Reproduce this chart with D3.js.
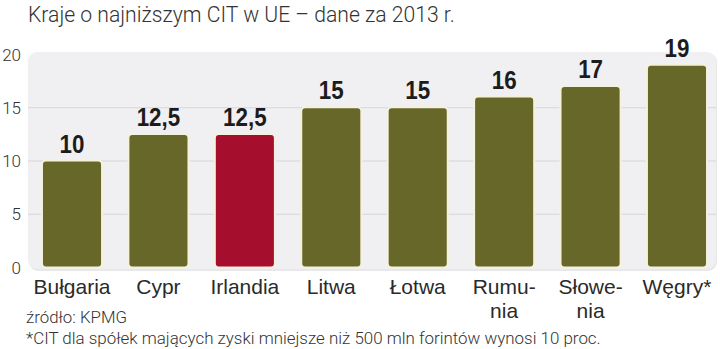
<!DOCTYPE html>
<html><head><meta charset="utf-8">
<script src="https://cdn.jsdelivr.net/npm/d3@7"></script>
<style>
html,body{margin:0;padding:0;background:#fff;}
svg{display:block;}
</style></head>
<body>
<svg id="c" width="720" height="349"></svg>
<script>
const categories = ["Bułgaria","Cypr","Irlandia","Litwa","Łotwa","Rumu-|nia","Słowe-|nia","Węgry*"];
const values = [10,12.5,12.5,15,15,16,17,19];
const valueLabels = ["10","12,5","12,5","15","15","16","17","19"];
const highlight = [false,false,true,false,false,false,false,false];
const yTicks = [0,5,10,15,20];
const title = "Kraje o najniższym CIT w UE – dane za 2013 r.";
const source = "źródło: KPMG";
const footnote = "*CIT dla spółek mających zyski mniejsze niż 500 mln forintów wynosi 10 proc.";

const svg = d3.select("#c");
const olive = "#67672a", red = "#a50e2d";

const x = d3.scaleBand().domain(d3.range(categories.length))
  .range([28.8, 720.2]).paddingInner(0.305).paddingOuter(0.1525);
const y = d3.scaleLinear().domain([0,20]).range([267,54]);

// panel
svg.append("rect").attr("x",29).attr("y",53).attr("width",688).attr("height",218)
  .attr("rx",9).attr("fill","#d9d9de").attr("opacity",0.6);
svg.append("rect").attr("x",28).attr("y",52).attr("width",688).attr("height",217)
  .attr("rx",9).attr("fill","#f0f0f3");

// gridlines
svg.append("g").selectAll("line").data(yTicks.filter(t=>t>0 && t<20)).join("line")
  .attr("x1",28).attr("x2",716).attr("y1",d=>y(d)+0.5).attr("y2",d=>y(d)+0.5)
  .attr("stroke","#d6d6db").attr("stroke-width",1);

// y axis labels
const yAxis = d3.axisLeft(y).tickValues(yTicks).tickSize(0).tickPadding(0);
const ga = svg.append("g").attr("transform","translate(21,0)").call(yAxis);
ga.select(".domain").remove();
ga.selectAll("text").attr("font-family","Roboto").attr("font-weight",300)
  .attr("font-size",17).attr("fill","#333").attr("dy","0.36em");

// bars
svg.append("g").selectAll("rect").data(values).join("rect")
  .attr("x",(d,i)=>x(i)).attr("width",x.bandwidth())
  .attr("y",d=>y(d)).attr("height",d=>y(0)-y(d)+0.5)
  .attr("rx",4)
  .attr("fill",(d,i)=>highlight[i]?red:olive)
  .attr("stroke","#f4f1dc").attr("stroke-width",2);

// value labels
svg.append("g").selectAll("text").data(values).join("text")
  .attr("transform",(d,i)=>`translate(${x(i)+x.bandwidth()/2},${y(d)-8}) scale(0.86,1)`)
  .attr("text-anchor","middle")
  .attr("font-family","Liberation Sans, Arial, sans-serif").attr("font-weight",700)
  .attr("font-size",26).attr("fill","#1c1c1c")
  .text((d,i)=>valueLabels[i]);

// category labels
const cg = svg.append("g").selectAll("text").data(categories).join("text")
  .attr("x",(d,i)=>x(i)+x.bandwidth()/2).attr("y",294)
  .attr("text-anchor","middle")
  .attr("font-family","Liberation Sans, Arial, sans-serif").attr("font-weight",400)
  .attr("font-size",21).attr("fill","#2a2a2a");
cg.each(function(d,i){
  const parts = d.split("|");
  d3.select(this).selectAll("tspan").data(parts).join("tspan")
    .attr("x",x(i)+x.bandwidth()/2).attr("dy",(p,j)=>j===0?0:24).text(p=>p);
});

// title & notes
function fitText(sel, target){
  const w = sel.node().getComputedTextLength();
  if (w>0){ const fs = +sel.attr("font-size"); sel.attr("font-size", fs*target/w); }
}
const t = svg.append("text").attr("x",28).attr("y",22)
  .attr("font-family","Roboto").attr("font-weight",300).attr("font-size",22)
  .attr("fill","#333").text(title);
fitText(t, 427);
const s = svg.append("text").attr("x",26).attr("y",323)
  .attr("font-family","Roboto").attr("font-weight",300).attr("font-size",16)
  .attr("fill","#333").text(source);
fitText(s, 101);
const f = svg.append("text").attr("x",26).attr("y",344)
  .attr("font-family","Roboto").attr("font-weight",300).attr("font-size",16)
  .attr("fill","#333").text(footnote);
fitText(f, 575);
</script>
</body></html>
